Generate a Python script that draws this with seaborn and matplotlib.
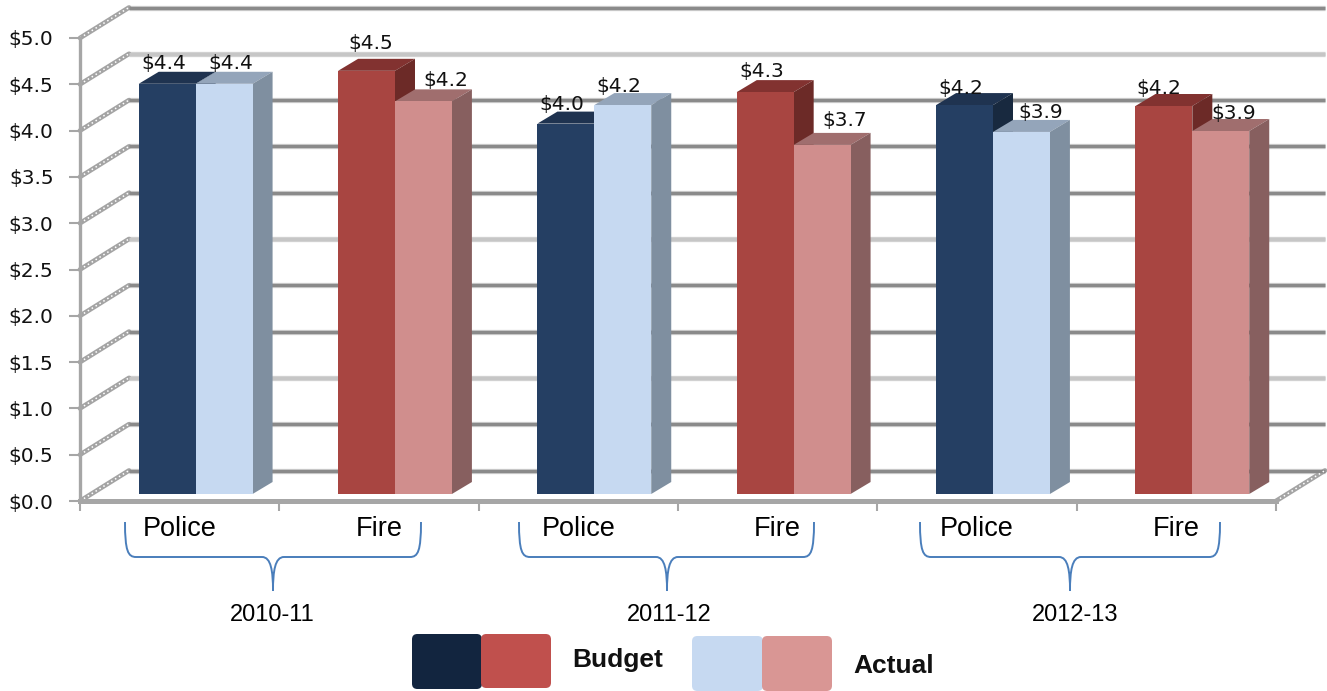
import matplotlib
matplotlib.use("Agg")
import matplotlib.pyplot as plt
from matplotlib.patches import FancyBboxPatch, PathPatch, Polygon
from matplotlib.path import Path
import pandas as pd
import seaborn as sns

slots = ["2010-11 Police", "2010-11 Fire", "2011-12 Police", "2011-12 Fire", "2012-13 Police", "2012-13 Fire"]
slot_labels = ["Police", "Fire", "Police", "Fire", "Police", "Fire"]
budget = [4.43, 4.57, 4.00, 4.34, 4.20, 4.19]
actual = [4.43, 4.24, 4.20, 3.77, 3.91, 3.92]
budget_labels = ["$4.4", "$4.5", "$4.0", "$4.3", "$4.2", "$4.2"]
actual_labels = ["$4.4", "$4.2", "$4.2", "$3.7", "$3.9", "$3.9"]
y_ticks = [0.0, 0.5, 1.0, 1.5, 2.0, 2.5, 3.0, 3.5, 4.0, 4.5, 5.0]
light_grid = [1.0, 2.5, 4.5]
years = ["2010-11", "2011-12", "2012-13"]

W, H = 1327, 691
PX_X = 199.33  # pixels per category
PX_Y = 92.6  # pixels per $1

# front, top, side shades
budget_colors = [("#253f63", "#1f3350", "#18293f"), ("#a84541", "#823230", "#6c2a27")]
actual_colors = [("#c6d9f1", "#94a5ba", "#7f8fa0"), ("#d08e8d", "#a06e6e", "#875f5f")]

# nudges of the value labels from the bar top centre, in pixels
budget_nudge = [(-3, 20), (4, 27), (-4, 19), (-3, 21), (-4, 17), (-5, 18)]
actual_nudge = [(7, 20), (22, 21), (-4, 19), (23, 24), (19, 19), (13, 18)]

sns.set_theme(style="white")
plt.rcParams["font.family"] = ["DejaVu Sans"]

fig = plt.figure(figsize=(W / 100, H / 100), dpi=100)


def px_rect(left, top, right, bottom):
    return [left / W, 1 - bottom / H, (right - left) / W, (bottom - top) / H]


def fx(x, y):
    return x / W, 1 - y / H


# front plane with the axes
ax = fig.add_axes(px_rect(80, 38, 1276, 501))
ax.set_xlim(-0.5, 5.5)
ax.set_ylim(0, 5)
ax.patch.set_alpha(0)

# back wall is shifted up and right of the front plane
wall_dx = 49 / PX_X
wall_dy = 30.5 / PX_Y
for v in y_ticks:
    soft = v in light_grid
    xs = [-0.5 + wall_dx, 5.5 + wall_dx]
    ax.plot(xs, [v + wall_dy] * 2, color="#d4d4d4", lw=3.8, clip_on=False, zorder=1, solid_capstyle="butt")
    ax.plot(xs, [v + wall_dy] * 2, color="#c6c6c6" if soft else "#8a8a8a", lw=2.4, clip_on=False, zorder=1.1,
            solid_capstyle="butt")
    # textured strip on the side wall
    ax.plot([-0.5, -0.5 + wall_dx], [v, v + wall_dy], color="#a4a4a4", lw=3.4, clip_on=False, zorder=1)
    ax.plot([-0.5, -0.5 + wall_dx], [v, v + wall_dy], color="white", lw=1.1, ls=(0, (1, 2)), clip_on=False, zorder=1.1)
ax.plot([5.5, 5.5 + wall_dx], [0, wall_dy], color="#a4a4a4", lw=3.4, clip_on=False, zorder=1)
ax.plot([5.5, 5.5 + wall_dx], [0, wall_dy], color="white", lw=1.1, ls=(0, (1, 2)), clip_on=False, zorder=1.1)

ax.set_yticks(y_ticks)
ax.set_yticklabels([f"${v:.1f}" for v in y_ticks], fontsize=14.5, color="#111111")
ax.set_xticks([i - 0.5 for i in range(7)])
ax.set_xticklabels([])
ax.set_xticks(range(6), minor=True)
ax.set_xticklabels(slot_labels, minor=True, fontsize=19.5, family="Liberation Sans", color="black")
ax.tick_params(axis="y", length=8, width=1.5, color="#a6a6a6", pad=11, left=True)
ax.tick_params(axis="x", which="major", length=7, width=1.5, color="#a6a6a6", bottom=True)
ax.tick_params(axis="x", which="minor", length=0, pad=11)
for side in ["top", "right"]:
    ax.spines[side].set_visible(False)
ax.spines["left"].set(color="#a6a6a6", linewidth=2.4, zorder=2)
ax.spines["bottom"].set(color="#a6a6a6", linewidth=3.6, zorder=2)

# bars sit a little inside the floor, so they get their own shifted axes
bar_ax = fig.add_axes(px_rect(96, 31, 1292, 494))
df = pd.DataFrame({
    "slot": slots * 2,
    "kind": ["Budget"] * 6 + ["Actual"] * 6,
    "value": budget + actual,
})
sns.barplot(data=df, x="slot", y="value", hue="kind", order=slots, hue_order=["Budget", "Actual"],
            palette=["#253f63", "#c6d9f1"], width=0.571, gap=0, saturation=1, legend=False, ax=bar_ax)
bar_ax.set_xlim(-0.5, 5.5)
bar_ax.set_ylim(0, 5)
bar_ax.set_axis_off()

depth_x = 20 / PX_X
depth_y = 12 / PX_Y
fronts = [p for p in bar_ax.patches if p.get_height() > 0]
for n, bar in enumerate(fronts):
    i = n % 6
    is_actual = n >= 6
    palette = actual_colors if is_actual else budget_colors
    front, top, side = palette[i % 2]
    base_z = 4 if is_actual else 2
    bar.set_facecolor(front)
    bar.set_edgecolor("none")
    bar.set_zorder(base_z + 1)
    x0, x1, h = bar.get_x(), bar.get_x() + bar.get_width(), bar.get_height()
    bar_ax.add_patch(Polygon([(x0, h), (x1, h), (x1 + depth_x, h + depth_y), (x0 + depth_x, h + depth_y)],
                             facecolor=top, edgecolor="none", zorder=base_z, clip_on=False))
    bar_ax.add_patch(Polygon([(x1, 0), (x1, h), (x1 + depth_x, h + depth_y), (x1 + depth_x, depth_y)],
                             facecolor=side, edgecolor="none", zorder=base_z, clip_on=False))
    labels = actual_labels if is_actual else budget_labels
    nudge = actual_nudge if is_actual else budget_nudge
    bar_ax.annotate(labels[i], ((x0 + x1) / 2, h), xytext=(nudge[i][0] * 0.72, nudge[i][1] * 0.72),
                    textcoords="offset points", ha="center", va="center", fontsize=14.5, color="#111111", zorder=7)


# curly brackets under the category labels
def brace(left, mid, right):
    y0, y1, y2 = 522, 557, 591
    verts = [
        fx(left, y0), fx(left, y1 - 6), fx(left + 3, y1), fx(left + 11, y1),
        fx(mid - 11, y1), fx(mid - 2, y1), fx(mid, y1 + 14), fx(mid, y2),
        fx(mid, y1 + 14), fx(mid + 2, y1), fx(mid + 11, y1),
        fx(right - 11, y1), fx(right - 3, y1), fx(right, y1 - 6), fx(right, y0),
    ]
    codes = [Path.MOVETO, Path.CURVE4, Path.CURVE4, Path.CURVE4, Path.LINETO,
             Path.CURVE4, Path.CURVE4, Path.CURVE4, Path.CURVE4, Path.CURVE4, Path.CURVE4,
             Path.LINETO, Path.CURVE4, Path.CURVE4, Path.CURVE4]
    fig.add_artist(PathPatch(Path(verts, codes), transform=fig.transFigure, facecolor="none",
                             edgecolor="#4a7ebb", linewidth=1.4))


for (left, mid, right), year, text_x in zip([(125, 273, 421), (519, 667, 814), (920, 1070, 1220)], years,
                                            [272, 669, 1075]):
    brace(left, mid, right)
    fig.text(*fx(text_x, 615), year, ha="center", va="center", fontsize=17, family="Liberation Sans", color="black")


# legend swatches
def swatch(left, top, right, bottom, color):
    x0, y0 = fx(left, bottom)
    x1, y1 = fx(right, top)
    fig.add_artist(FancyBboxPatch((x0, y0), x1 - x0, y1 - y0, boxstyle="round,pad=0,rounding_size=0.004",
                                  transform=fig.transFigure, facecolor=color, edgecolor="none",
                                  mutation_aspect=W / H))


swatch(412, 634, 482, 689, "#12253f")
swatch(481, 634, 551, 688, "#c0504d")
swatch(692, 636, 763, 691, "#c6d9f1")
swatch(762, 636, 832, 691, "#d99694")
fig.text(*fx(618, 660), "Budget", ha="center", va="center", fontsize=19, fontweight="bold",
         family="Liberation Sans", color="#111111")
fig.text(*fx(894, 666), "Actual", ha="center", va="center", fontsize=19, fontweight="bold",
         family="Liberation Sans", color="#111111")

fig.savefig("out.png", dpi=100)
